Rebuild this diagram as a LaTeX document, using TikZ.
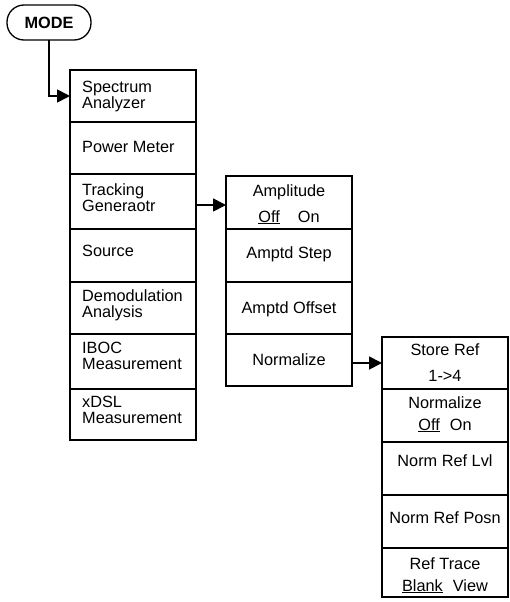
\documentclass[tikz,border=0pt]{standalone}
\usepackage{fontspec}
\setmainfont{Liberation Sans}
\usetikzlibrary{arrows.meta}
\tikzset{
  cell/.style={draw, line width=1.8pt, minimum width=126pt, anchor=north west, inner sep=0pt, outer sep=0pt},
  lbl/.style={inner sep=0pt, font=\fontsize{16.3}{16}\selectfont},
  lblc/.style={lbl, align=center, anchor=base},
  lbll/.style={lbl, align=left, anchor=base west},
  conn/.style={line width=1.8pt, -{Triangle[length=13pt,width=13pt]}},
  modebox/.style={draw, line width=1.3pt, rounded corners=17pt, minimum width=84pt, minimum height=35pt, inner sep=0pt, outer sep=0pt, font=\fontsize{16.3}{16}\selectfont\bfseries}
}
\begin{document}
\begin{tikzpicture}[x=1pt,y=-1pt]
\useasboundingbox (0,0) rectangle (509,602);
% MODE key
\node[modebox] (mode) at (49,22.5) {MODE};
% column 1
\node[cell, minimum height=52pt] (a1) at (70,70) {};
\node[cell, minimum height=52pt] (a2) at (70,122) {};
\node[cell, minimum height=55pt] (a3) at (70,174) {};
\node[cell, minimum height=53pt] (a4) at (70,229) {};
\node[cell, minimum height=52pt] (a5) at (70,282) {};
\node[cell, minimum height=55pt] (a6) at (70,334) {};
\node[cell, minimum height=51pt] (a7) at (70,389) {};
\node[lbll] (ta1) at (82,108) {Spectrum\\Analyzer};
\node[lbll] (ta2) at (82,152) {Power Meter};
\node[lbll] (ta3) at (82,211) {Tracking\\Generaotr};
\node[lbll] (ta4) at (82,256) {Source};
\node[lbll] (ta5) at (82,317) {Demodulation\\Analysis};
\node[lbll] (ta6) at (82,369) {IBOC\\Measurement};
\node[lbll] (ta7) at (82,423) {xDSL\\Measurement};
% column 2
\node[cell, minimum height=53pt] (b1) at (226,176) {};
\node[cell, minimum height=53pt] (b2) at (226,229) {};
\node[cell, minimum height=52pt] (b3) at (226,282) {};
\node[cell, minimum height=52pt] (b4) at (226,334) {};
\node[lblc] (tb1) at (289,196) {Amplitude};
\node[lblc] (tb1b) at (289,222) {\underline{Off}\hspace{18pt}On};
\node[lblc] (tb2) at (289,258) {Amptd Step};
\node[lblc] (tb3) at (289,313) {Amptd Offset};
\node[lblc] (tb4) at (289,365) {Normalize};
% column 3
\node[cell, minimum height=52pt] (c1) at (382,337) {};
\node[cell, minimum height=53pt] (c2) at (382,389) {};
\node[cell, minimum height=53pt] (c3) at (382,442) {};
\node[cell, minimum height=53pt] (c4) at (382,495) {};
\node[cell, minimum height=49pt] (c5) at (382,548) {};
\node[lblc] (tc1) at (445,355) {Store Ref};
\node[lblc] (tc1b) at (445,381) {1->4};
\node[lblc] (tc2) at (445,408) {Normalize};
\node[lblc] (tc2b) at (445,430) {\underline{Off}\hspace{10pt}On};
\node[lblc] (tc3) at (445,466) {Norm Ref Lvl};
\node[lblc] (tc4) at (445,523) {Norm Ref Posn};
\node[lblc] (tc5) at (445,569) {Ref Trace};
\node[lblc] (tc5b) at (445,591) {\underline{Blank}\hspace{10pt}View};
% connectors
\coordinate (bend) at (mode.south |- 0,96);
\draw[conn] (mode.south) -- (bend) -- (a1.west |- bend);
\draw[conn] (a3.east |- 0,205) -- (b1.west |- 0,205);
\draw[conn] (b4.east |- 0,363) -- (c1.west |- 0,363);
\end{tikzpicture}
\end{document}
